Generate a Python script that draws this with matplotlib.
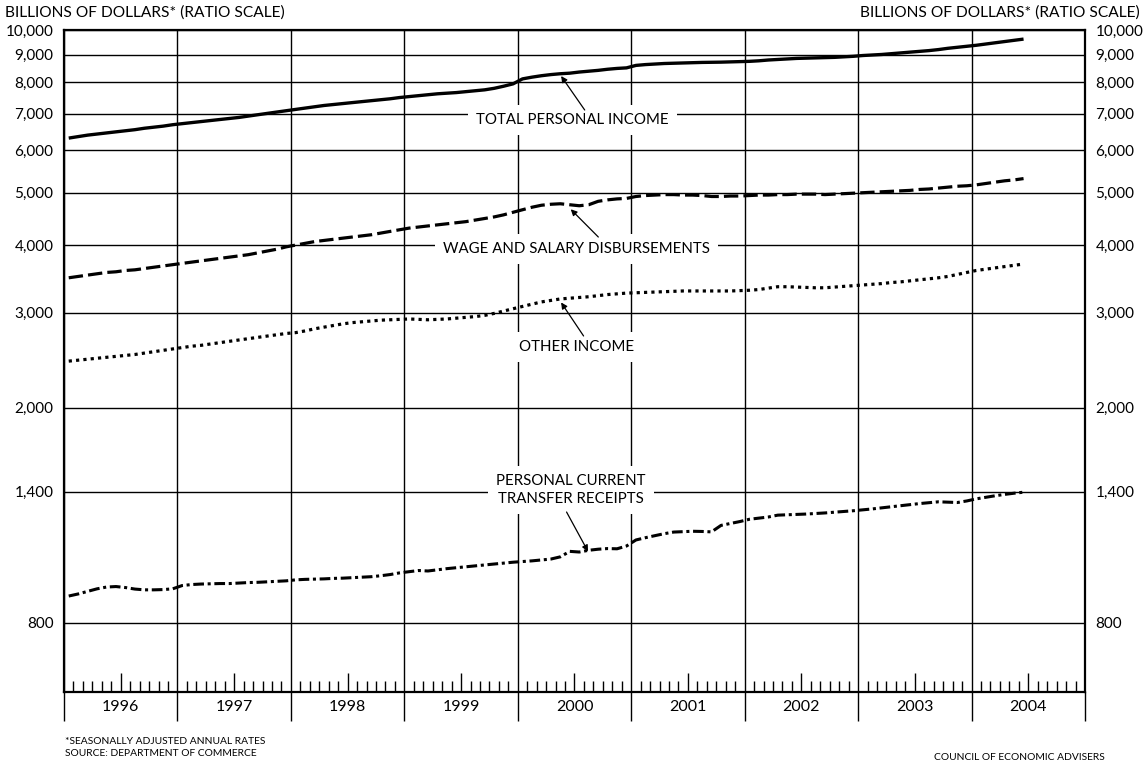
import matplotlib
matplotlib.use("Agg")
import matplotlib.pyplot as plt
import matplotlib.ticker as mticker
import numpy as np
import pandas as pd

plt.rcParams['font.family'] = ['Lato', 'DejaVu Sans']
plt.rcParams['font.size'] = 11

# monthly data, Jan 1996 - Jun 2004, billions of dollars (SAAR)
total_income = [
    6310, 6350, 6390, 6420, 6450, 6480, 6510, 6540, 6580, 6610, 6640, 6680,
    6710, 6740, 6770, 6800, 6830, 6860, 6890, 6930, 6970, 7010, 7050, 7090,
    7130, 7170, 7210, 7250, 7280, 7310, 7340, 7370, 7400, 7430, 7460, 7500,
    7530, 7560, 7590, 7620, 7640, 7660, 7690, 7720, 7750, 7800, 7870, 7950,
    8120, 8180, 8230, 8270, 8300, 8320, 8360, 8390, 8420, 8460, 8490, 8510,
    8600, 8630, 8650, 8670, 8680, 8690, 8700, 8710, 8715, 8720, 8730, 8740,
    8750, 8770, 8800, 8820, 8840, 8860, 8870, 8880, 8890, 8900, 8920, 8940,
    8970, 8990, 9010, 9040, 9070, 9100, 9130, 9160, 9200, 9250, 9290, 9330,
    9370, 9420, 9470, 9520, 9570, 9620]
wages = [
    3480, 3500, 3520, 3540, 3560, 3570, 3590, 3600, 3620, 3640, 3660, 3680,
    3700, 3720, 3740, 3760, 3780, 3800, 3820, 3840, 3870, 3900, 3930, 3970,
    4000, 4030, 4060, 4080, 4100, 4120, 4140, 4160, 4180, 4210, 4240, 4270,
    4300, 4320, 4340, 4360, 4380, 4400, 4420, 4450, 4480, 4510, 4550, 4600,
    4650, 4700, 4740, 4760, 4770, 4750, 4730, 4750, 4820, 4850, 4870, 4880,
    4920, 4940, 4950, 4960, 4960, 4950, 4950, 4940, 4920, 4920, 4930, 4930,
    4940, 4950, 4950, 4960, 4960, 4970, 4970, 4970, 4960, 4970, 4980, 4990,
    5000, 5010, 5020, 5030, 5040, 5050, 5070, 5080, 5100, 5120, 5140, 5150,
    5170, 5200, 5230, 5260, 5280, 5310]
other_income = [
    2440, 2450, 2460, 2470, 2480, 2490, 2500, 2510, 2525, 2540, 2555, 2570,
    2585, 2600, 2610, 2625, 2640, 2655, 2670, 2685, 2700, 2715, 2730, 2745,
    2755, 2775, 2800, 2820, 2840, 2860, 2875, 2885, 2895, 2905, 2910, 2915,
    2920, 2915, 2910, 2915, 2920, 2930, 2940, 2950, 2965, 2990, 3020, 3050,
    3080, 3110, 3140, 3160, 3180, 3190, 3200, 3210, 3225, 3240, 3250, 3260,
    3265, 3270, 3275, 3280, 3285, 3290, 3290, 3290, 3290, 3290, 3290, 3295,
    3300, 3310, 3330, 3350, 3350, 3345, 3340, 3335, 3335, 3345, 3355, 3365,
    3375, 3385, 3395, 3410, 3420, 3435, 3450, 3465, 3480, 3500, 3530, 3560,
    3590, 3610, 3630, 3650, 3670, 3690]
transfers = [
    897, 905, 915, 925, 932, 934, 930, 924, 921, 921, 922, 925,
    938, 942, 944, 945, 946, 946, 948, 950, 951, 953, 955, 957,
    961, 963, 964, 965, 967, 968, 970, 972, 974, 978, 983, 990,
    995, 1000, 998, 1003, 1008, 1012, 1016, 1020, 1024, 1028, 1032, 1036,
    1039, 1042, 1046, 1050, 1060, 1085, 1082, 1090, 1095, 1098, 1097, 1110,
    1139, 1150, 1160, 1170, 1178, 1180, 1182, 1181, 1179, 1212, 1222, 1232,
    1244, 1250, 1256, 1266, 1268, 1270, 1272, 1275, 1278, 1282, 1286, 1290,
    1295, 1300, 1306, 1312, 1318, 1324, 1330, 1335, 1340, 1338, 1336, 1345,
    1357, 1366, 1375, 1383, 1390, 1396]

years = list(range(1996, 2005))
ytick_vals = [800, 1400, 2000, 3000, 4000, 5000, 6000, 7000, 8000, 9000, 10000]

months = pd.date_range("1996-01-01", periods=len(total_income), freq="MS")
t = months.year + (months.month - 0.5) / 12

fig = plt.figure(figsize=(11.43, 7.66), dpi=100)
ax = fig.add_axes([64/1143, 1 - 692/766, 1021/1143, 662/766])

ax.set_yscale("log")
ax.set_ylim(596, 10000)
ax.set_xlim(years[0], years[-1] + 1)

ax.plot(t, total_income, color="black", lw=2.4, solid_capstyle="butt", zorder=5)
ax.plot(t, wages, color="black", lw=2.3, linestyle=(0, (4.5, 1.6)), zorder=5)
ax.plot(t, other_income, color="black", lw=2.3, linestyle=(0, (1, 1.3)),
        dash_capstyle="butt", zorder=5)
ax.plot(t, transfers, color="black", lw=2.2, linestyle=(0, (3.5, 1.2, 1, 1.2)),
        dash_capstyle="butt", zorder=5)

# y axis, labels both sides
ax.yaxis.set_major_locator(mticker.FixedLocator(ytick_vals))
ax.yaxis.set_minor_locator(mticker.NullLocator())
ax.yaxis.set_major_formatter(mticker.FuncFormatter(lambda v, p: f"{v:,.0f}"))
ax.tick_params(axis="y", left=False, right=False, labelleft=True,
               labelright=True, labelsize=11, pad=4)
ax.grid(axis="y", color="black", lw=1.0, zorder=1)

# x axis: year boundaries out, month ticks in, year labels under mid-year tick
ax.xaxis.set_major_locator(mticker.FixedLocator(years + [years[-1] + 1]))
ax.xaxis.set_major_formatter(mticker.NullFormatter())
month_ticks = [y + m / 12 for y in years for m in range(1, 12) if m != 6]
ax.xaxis.set_minor_locator(mticker.FixedLocator(month_ticks))
ax.tick_params(axis="x", which="major", direction="out", length=21, width=1.0)
ax.tick_params(axis="x", which="minor", direction="in", length=8, width=1.0)
ax.grid(axis="x", which="major", color="black", lw=1.0, zorder=1)

sec = ax.secondary_xaxis("bottom")
sec.set_xticks([y + 0.5 for y in years])
sec.set_xticklabels([str(y) for y in years])
sec.tick_params(direction="in", length=14, width=1.0, labelsize=11.5, pad=6)
sec.spines["bottom"].set_visible(False)

for s in ax.spines.values():
    s.set_linewidth(1.6)

box = dict(boxstyle="square,pad=0.55", fc="white", ec="none")
arrow = dict(arrowstyle="-|>", color="black", lw=0.9, mutation_scale=9,
             shrinkA=0, shrinkB=1)
label_kw = dict(ha="center", va="center", fontsize=10.8, bbox=box, zorder=3)

ax.text(2000.48, 6815, "TOTAL PERSONAL INCOME", **label_kw)
ax.annotate("", xy=(t[52], total_income[52] * 0.995), xytext=(2000.59, 7112),
            arrowprops=arrow, zorder=4)

ax.text(2000.52, 3934, "WAGE AND SALARY DISBURSEMENTS", **label_kw)
ax.annotate("", xy=(t[53], wages[53] * 0.985), xytext=(2000.71, 4140),
            arrowprops=arrow, zorder=4)

ax.text(2000.52, 2592, "OTHER INCOME", **label_kw)
ax.annotate("", xy=(t[52], other_income[52] * 0.99), xytext=(2000.58, 2716),
            arrowprops=arrow, zorder=4)

ax.text(2000.47, 1410, "PERSONAL CURRENT\nTRANSFER RECEIPTS", linespacing=1.3,
        **label_kw)
ax.annotate("", xy=(t[55], transfers[55] * 0.99), xytext=(2000.43, 1283),
            arrowprops=arrow, zorder=4)

fig.text(0.004, 0.983, "BILLIONS OF DOLLARS* (RATIO SCALE)", fontsize=11.2,
         ha="left", va="center")
fig.text(0.9975, 0.983, "BILLIONS OF DOLLARS* (RATIO SCALE)", fontsize=11.2,
         ha="right", va="center")
fig.text(65/1143, 1 - 742/766, "*SEASONALLY ADJUSTED ANNUAL RATES", fontsize=7.4,
         ha="left", va="center")
fig.text(65/1143, 1 - 754/766, "SOURCE: DEPARTMENT OF COMMERCE", fontsize=7.4,
         ha="left", va="center")
fig.text(1105/1143, 1 - 757/766, "COUNCIL OF ECONOMIC ADVISERS", fontsize=7.4,
         ha="right", va="center")

fig.savefig("out.png", dpi=100)
